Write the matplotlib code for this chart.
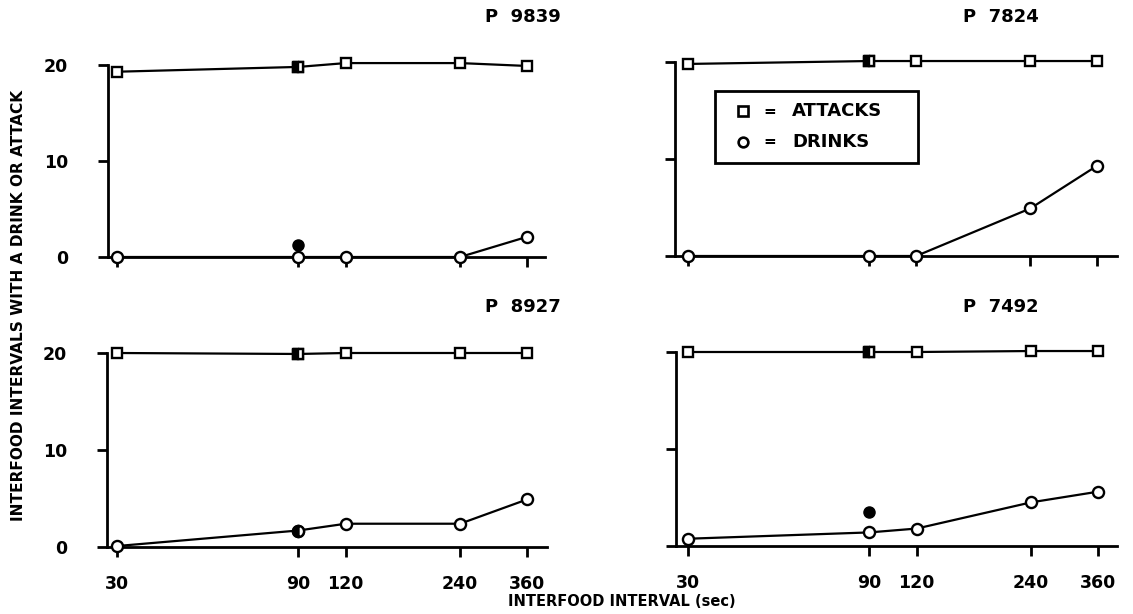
import numpy as np
import matplotlib.pyplot as plt
from matplotlib.lines import Line2D
from matplotlib.patches import Rectangle
from matplotlib.ticker import FixedLocator, NullLocator, FixedFormatter

# interfood intervals (sec)
intervals = [30, 90, 120, 240, 360]
tick_labels = ["30", "90", "120", "240", "360"]

subjects = ["P 9839", "P 7824", "P 8927", "P 7492"]

attacks_9839 = [19.3, 19.8, 20.2, 20.2, 19.9]
drinks_9839 = [0.0, 0.0, 0.0, 0.0, 2.1]
attacks_7824 = [19.8, 20.1, 20.1, 20.1, 20.1]
drinks_7824 = [0.0, 0.0, 0.0, 4.9, 9.3]
attacks_8927 = [20.0, 19.9, 20.0, 20.0, 20.0]
drinks_8927 = [0.1, 1.7, 2.4, 2.4, 4.9]
attacks_7492 = [20.0, 20.0, 20.0, 20.1, 20.1]
drinks_7492 = [0.75, 1.4, 1.8, 4.5, 5.6]

# filled (redetermination) drink points at 90 sec
redet_x = 90
redet_drinks = {"P 9839": 1.2, "P 7492": 3.5}

attacks_all = [attacks_9839, attacks_7824, attacks_8927, attacks_7492]
drinks_all = [drinks_9839, drinks_7824, drinks_8927, drinks_7492]

plt.rcParams["font.family"] = "DejaVu Sans"
plt.rcParams["font.weight"] = "bold"

W, H = 1133, 614
fig = plt.figure(figsize=(W / 100, H / 100), dpi=100)

# panel layout in pixels: spine x, x of 30, x of 360, right end, y of 0, y of 20
layout = [(108, 117, 527, 545, 257, 65),
          (675, 688, 1097, 1117, 256, 62),
          (107, 117, 527, 547, 547, 353),
          (676, 688, 1098, 1117, 546, 352)]
title_pos = [(485, 17), (963, 17), (485, 307), (963, 307)]
YTOP = 20.5

axes = []
for (sx, x30, x360, rx, y0, y20) in layout:
    k = (x360 - x30) / np.log(12)
    lo = 30 * np.exp(-(x30 - sx) / k)
    hi = 360 * np.exp((rx - x360) / k)
    h = (y0 - y20) * YTOP / 20
    ax = fig.add_axes([sx / W, 1 - y0 / H, (rx - sx) / W, h / H])
    ax.set_xscale("log")
    ax.set_xlim(lo, hi)
    ax.set_ylim(0, YTOP)
    axes.append(ax)

for i, ax in enumerate(axes):
    name = subjects[i]
    att = attacks_all[i]
    dr = drinks_all[i]

    ax.plot(intervals, att, color="black", lw=1.6, marker="s", ms=7.5,
            mfc="white", mec="black", mew=1.7, clip_on=False, zorder=3)
    ax.plot(intervals, dr, color="black", lw=1.6, marker="o", ms=8,
            mfc="white", mec="black", mew=1.7, clip_on=False, zorder=3)

    # half-filled points at 90 sec
    k = intervals.index(90)
    ax.plot([90], [att[k]], marker="s", ms=7.5, fillstyle="left",
            mfc="black", mfcalt="white", mec="black", mew=1.7,
            ls="none", clip_on=False, zorder=4)
    if name == "P 8927":
        ax.plot([90], [dr[k]], marker="o", ms=8, fillstyle="left",
                mfc="black", mfcalt="white", mec="black", mew=1.7,
                ls="none", clip_on=False, zorder=4)
    if name in redet_drinks:
        ax.plot([redet_x], [redet_drinks[name]], marker="o", ms=8,
                mfc="black", mec="black", ls="none", clip_on=False, zorder=4)

    for s in ["top", "right"]:
        ax.spines[s].set_visible(False)
    ax.spines["left"].set_bounds(0, 20)
    ax.spines["left"].set_linewidth(2)
    ax.spines["bottom"].set_linewidth(2)

    ax.xaxis.set_major_locator(FixedLocator(intervals))
    ax.xaxis.set_minor_locator(NullLocator())
    ax.yaxis.set_major_locator(FixedLocator([0, 10, 20]))
    ax.tick_params(axis="both", direction="out", length=7.2, width=2,
                   labelsize=12.5)
    ax.tick_params(axis="x", pad=13)
    ax.tick_params(axis="y", pad=21.5)

    if i >= 2:
        ax.xaxis.set_major_formatter(FixedFormatter(tick_labels))
    else:
        ax.set_xticklabels([])
    if i % 2 == 0:
        ax.set_yticklabels(["0", "10", "20"])
    else:
        ax.set_yticklabels([])

    tx, ty = title_pos[i]
    fig.text(tx / W, 1 - ty / H, name.replace(" ", "  "), ha="left",
             va="center", fontsize=13, fontweight="bold")

# legend box drawn in figure pixels
fig.add_artist(Rectangle((715 / W, 1 - 163 / H), 203 / W, 72 / H,
                         transform=fig.transFigure, fill=False,
                         edgecolor="black", lw=2))
legend_rows = [("s", "ATTACKS", 111), ("o", "DRINKS", 142)]
for mk, lab, yy in legend_rows:
    fig.add_artist(Line2D([743 / W], [1 - yy / H], transform=fig.transFigure,
                          marker=mk, ms=7, mfc="white", mec="black", mew=1.9,
                          ls="none"))
    fig.text(770 / W, 1 - yy / H, "=", ha="center", va="center",
             fontsize=11, fontweight="bold")
    fig.text(792 / W, 1 - yy / H, lab, ha="left", va="center",
             fontsize=13, fontweight="bold")

fig.text(19 / W, 1 - 305 / H, "INTERFOOD INTERVALS WITH A DRINK OR ATTACK",
         rotation=90, ha="center", va="center", fontsize=11.1,
         fontweight="bold")
fig.text(622 / W, 1 - 602 / H, "INTERFOOD INTERVAL (sec)", ha="center",
         va="center", fontsize=10.5, fontweight="bold")

fig.savefig("out.png", dpi=100)
